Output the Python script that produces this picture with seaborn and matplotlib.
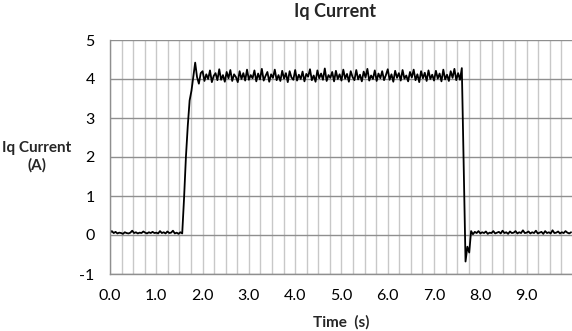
import numpy as np
import pandas as pd
import matplotlib
matplotlib.use("Agg")
import matplotlib.pyplot as plt
import seaborn as sns

# Sample interval of the recorded signal (s)
sample_dt = 0.04

# Iq current samples (A), one row per second of recording
current_0s = [0.06, 0.10, 0.05, 0.08, 0.04, 0.06, 0.05, 0.03, 0.07, 0.05, 0.04, 0.06, 0.11,
              0.05, 0.07, 0.04, 0.06, 0.05, 0.09, 0.06, 0.04, 0.07, 0.05, 0.08, 0.05]
current_1s = [0.06, 0.04, 0.10, 0.05, 0.07, 0.04, 0.09, 0.05, 0.06, 0.11, 0.04, 0.06, 0.03,
              0.07, 0.04, 0.95, 2.00, 2.80, 3.45, 3.70, 4.05, 4.42, 4.05, 3.88, 4.15]
current_2s = [4.20, 3.95, 4.12, 4.00, 4.22, 3.92, 4.08, 4.15, 3.97, 4.25, 3.98, 4.10, 3.93,
              4.18, 4.02, 4.23, 3.95, 4.12, 4.05, 3.92, 4.20, 4.00, 4.15, 3.96, 4.24]
current_3s = [3.98, 4.10, 4.02, 4.22, 3.94, 4.14, 3.99, 4.26, 3.96, 4.08, 4.18, 3.93, 4.12,
              4.03, 4.24, 3.97, 4.10, 3.95, 4.21, 4.01, 4.15, 3.92, 4.20, 4.04, 3.98]
current_4s = [4.23, 3.96, 4.11, 4.00, 4.19, 3.94, 4.13, 4.06, 4.25, 3.97, 4.09, 3.93, 4.22,
              4.02, 4.14, 3.98, 4.27, 3.95, 4.10, 4.03, 4.18, 3.94, 4.21, 4.00, 4.12]
current_5s = [3.96, 4.24, 4.01, 4.13, 3.93, 4.20, 4.05, 3.97, 4.23, 3.99, 4.11, 3.94, 4.19,
              4.04, 4.26, 3.96, 4.09, 4.00, 4.22, 3.95, 4.14, 4.02, 4.20, 3.97, 4.10]
current_6s = [4.25, 3.98, 4.12, 3.93, 4.21, 4.03, 4.15, 3.96, 4.23, 4.01, 4.09, 3.94, 4.18,
              4.04, 4.24, 3.97, 4.12, 3.92, 4.20, 4.02, 4.16, 3.95, 4.22, 4.00, 4.11]
current_7s = [3.96, 4.21, 4.01, 4.14, 3.94, 4.24, 3.99, 4.11, 3.95, 4.20, 4.03, 4.26, 3.97,
              4.15, 3.98, 4.28, 1.80, -0.68, -0.30, -0.45, 0.10, 0.02, 0.08, 0.05, 0.10]
current_8s = [0.04, 0.07, 0.05, 0.09, 0.03, 0.06, 0.05, 0.10, 0.04, 0.06, 0.08, 0.04, 0.11,
              0.05, 0.07, 0.03, 0.09, 0.05, 0.06, 0.10, 0.04, 0.07, 0.05, 0.12, 0.05]
current_9s = [0.06, 0.09, 0.04, 0.07, 0.05, 0.11, 0.04, 0.06, 0.08, 0.03, 0.10, 0.05, 0.07,
              0.04, 0.12, 0.05, 0.06, 0.09, 0.04, 0.07, 0.05, 0.10, 0.06, 0.04, 0.07]

x_tick_values = [0, 1, 2, 3, 4, 5, 6, 7, 8, 9]
x_tick_labels = ["0.0", "1.0", "2.0", "3.0", "4.0", "5.0", "6.0", "7.0", "8.0", "9.0"]
y_tick_values = [-1, 0, 1, 2, 3, 4, 5]
y_tick_labels = ["-1", "0", "1", "2", "3", "4", "5"]

title_text = "Iq Current"
ylabel_text = "Iq Current\n(A)"
xlabel_text = "Time  (s)"

current = (current_0s + current_1s + current_2s + current_3s + current_4s +
           current_5s + current_6s + current_7s + current_8s + current_9s)
time = np.round(np.arange(len(current)) * sample_dt, 3)
df = pd.DataFrame({"Time": time, "Current": current})

sns.set_style("white")
plt.rcParams["font.family"] = ["Lato", "DejaVu Sans"]
plt.rcParams["axes.unicode_minus"] = False

fig = plt.figure(figsize=(5.72, 3.31), dpi=100)
ax = fig.add_axes([110 / 572, 1 - 274 / 331, 1 - 110 / 572, (274 - 40) / 331])

sns.lineplot(data=df, x="Time", y="Current", color="black", linewidth=1.3, ax=ax)

ax.set_xlim(0, 9.98)
ax.set_ylim(-1, 5)
ax.set_xticks(x_tick_values)
ax.set_xticklabels(x_tick_labels)
ax.set_xticks(np.arange(0, 10, 0.25), minor=True)
ax.set_yticks(y_tick_values)
ax.set_yticklabels(y_tick_labels)

ax.grid(False)
ax.xaxis.grid(True, which="both", color="#c8c8c8", linewidth=1.0)
ax.yaxis.grid(True, which="major", color="#8f8f8f", linewidth=1.0)
ax.set_axisbelow(True)

for s in ["top", "right"]:
    ax.spines[s].set_visible(False)
for s in ["left", "bottom"]:
    ax.spines[s].set_color("#8f8f8f")
    ax.spines[s].set_linewidth(1.0)

ax.tick_params(axis="x", which="both", length=0, pad=11, labelsize=11.5, colors="black")
ax.tick_params(axis="y", which="major", length=5, width=1.0, color="#8f8f8f",
               pad=6, labelsize=11.5, labelcolor="black")
ax.set_xlabel("")
ax.set_ylabel("")

fig.text(335 / 572, 1 - 11 / 331, title_text, ha="center", va="center",
         fontsize=13, fontweight="bold")
fig.text(37 / 572, 1 - 157 / 331, ylabel_text, ha="center", va="center",
         fontsize=11, fontweight="bold", linespacing=1.25)
fig.text(341 / 572, 1 - 322 / 331, xlabel_text, ha="center", va="center",
         fontsize=11, fontweight="bold")

fig.savefig("out.png", dpi=100)
